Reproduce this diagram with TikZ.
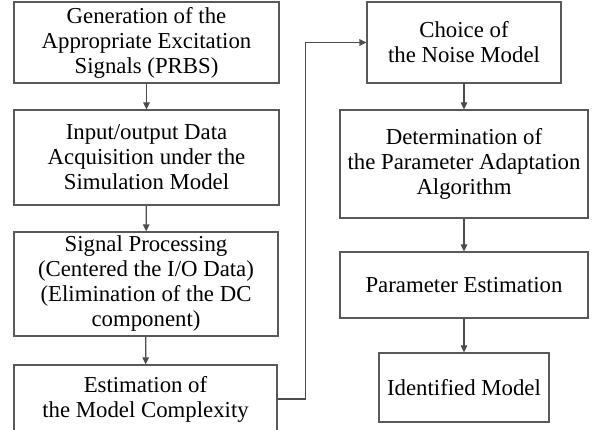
\documentclass[tikz,border=0pt]{standalone}
\usepackage{fontspec}
\setmainfont{Liberation Serif}
\usetikzlibrary{arrows.meta}
\begin{document}
\begin{tikzpicture}[x=1pt,y=-1pt,
  box/.style={draw=black!65,line width=1.2pt,rectangle,align=center,inner sep=0pt,
    font=\fontsize{22.8}{25}\selectfont},
  conn/.style={draw=black!70,line width=1.2pt,-{Triangle[length=7pt,width=6.5pt]}}]
\useasboundingbox (0,0) rectangle (598,430);
\node[box,minimum width=265pt,minimum height=81pt] (b1) at (146.5,42.5) {Generation of the\\Appropriate Excitation\\Signals (PRBS)};
\node[box,minimum width=265pt,minimum height=95pt] (b2) at (146.5,157.5) {Input/output Data\\Acquisition under the\\Simulation Model};
\node[box,minimum width=264pt,minimum height=104pt] (b3) at (146,284) {Signal Processing\\(Centered the I/O Data)\\(Elimination of the DC\\component)};
\node[box,minimum width=263pt,minimum height=68pt] (b4) at (145.5,399) {Estimation of\\the Model Complexity};
\node[box,minimum width=194pt,minimum height=81pt] (c1) at (464,42.5) {Choice of\\the Noise Model};
\node[box,minimum width=248pt,minimum height=108pt] (c2) at (464,164) {Determination of\\the Parameter Adaptation\\Algorithm};
\node[box,minimum width=248pt,minimum height=66pt] (c3) at (464,285) {Parameter Estimation};
\node[box,minimum width=170pt,minimum height=69pt] (c4) at (464,387.5) {Identified Model};
\draw[conn] (b1) -- (b2);
\draw[conn] (b2) -- (b3);
\draw[conn] (b3) -- (b4);
\draw[conn] (b4.east) -- ++(28,0) |- (c1.west);
\draw[conn] (c1) -- (c2);
\draw[conn] (c2) -- (c3);
\draw[conn] (c3) -- (c4);
\end{tikzpicture}
\end{document}
